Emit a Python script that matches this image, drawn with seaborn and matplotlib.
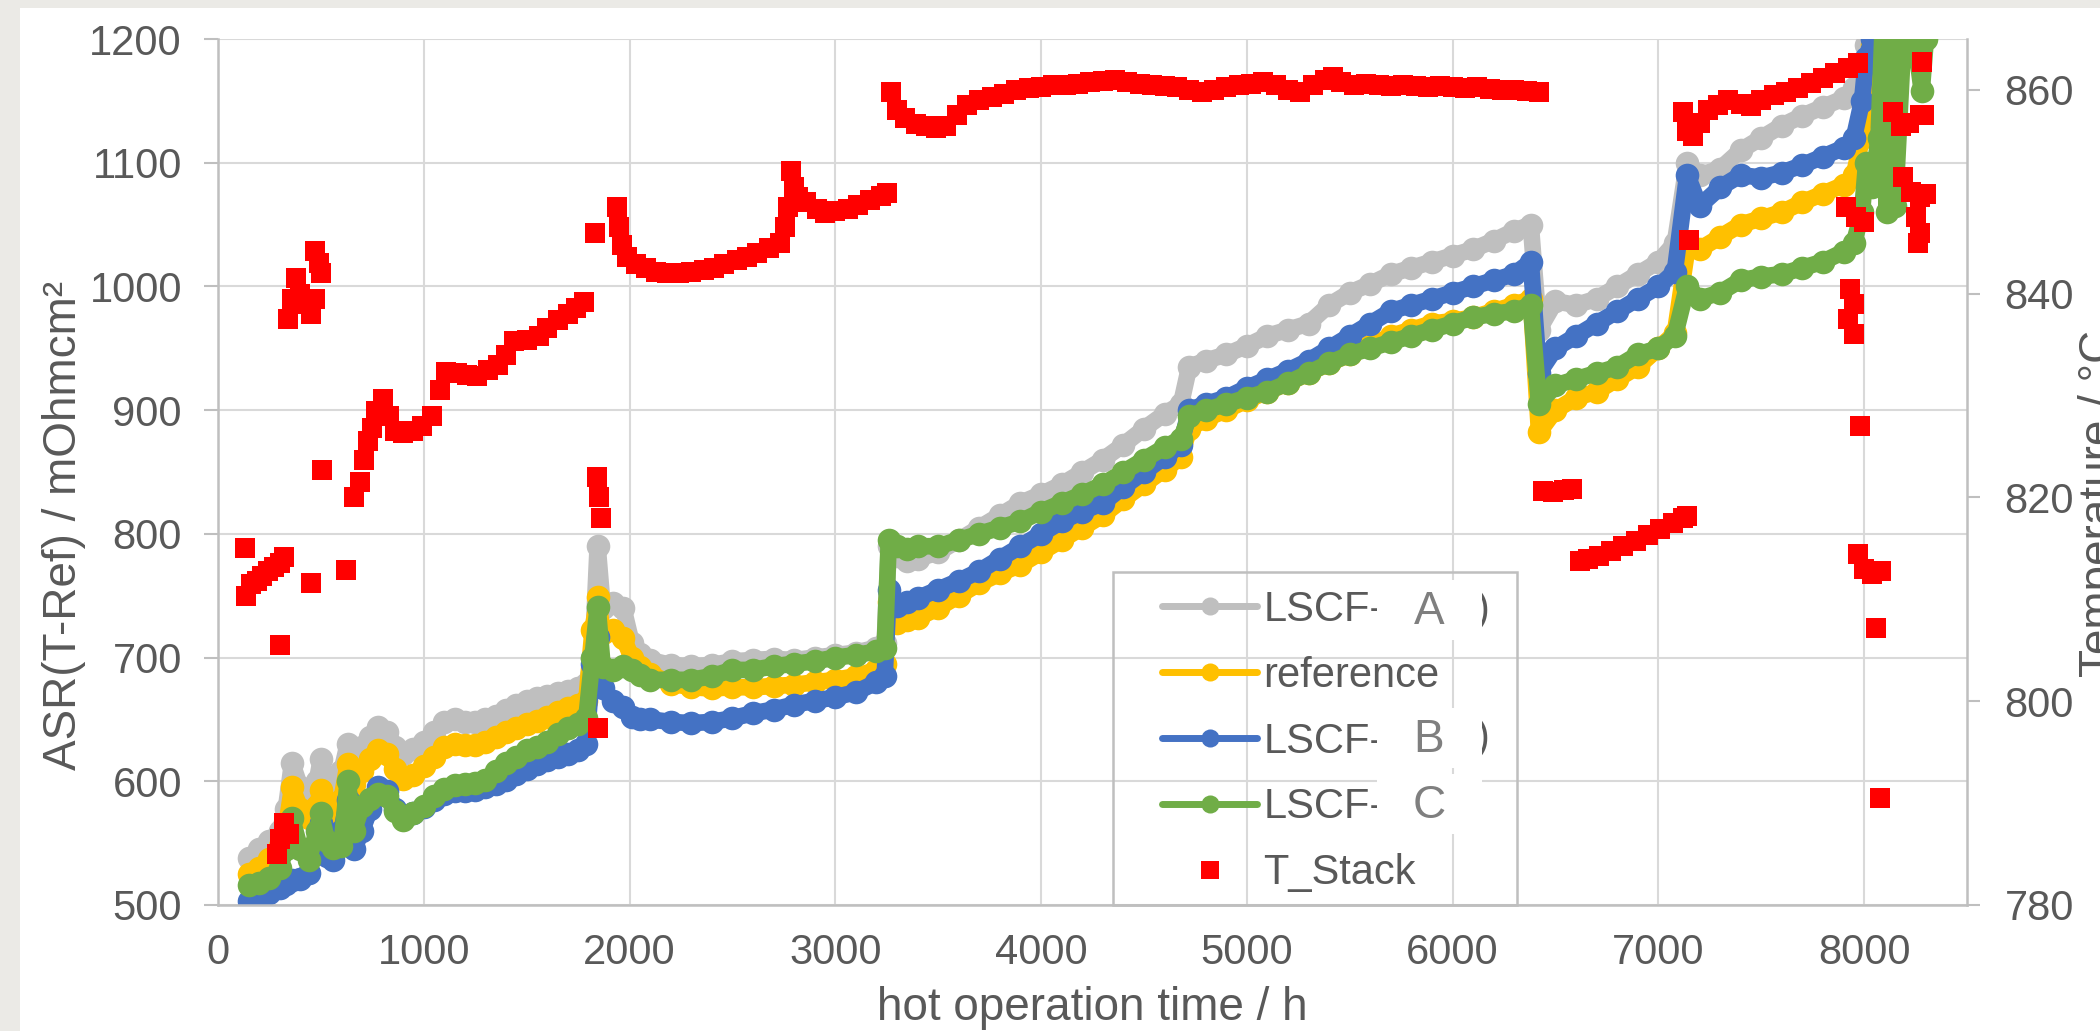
import numpy as np
import pandas as pd
import matplotlib
matplotlib.use("Agg")
import matplotlib.pyplot as plt
from matplotlib.lines import Line2D
from matplotlib.patches import Rectangle
import seaborn as sns

# ---------------- data ----------------
t_h = [150, 200, 250, 300, 330, 360, 400, 440, 480, 500,
       530, 560, 600, 630, 660, 700, 740, 780, 820, 860,
       900, 950, 1000, 1050, 1100, 1150, 1200, 1250, 1300, 1350,
       1400, 1450, 1500, 1550, 1600, 1650, 1700, 1750, 1790,
       1820, 1845, 1870, 1920, 1970, 2010, 2050, 2100,
       2200, 2300, 2400, 2500, 2600, 2700, 2800, 2900, 3000, 3100, 3200,
       3240, 3260, 3300, 3350, 3400,
       3500, 3600, 3700, 3800, 3900, 4000, 4100, 4200, 4300, 4400, 4500, 4600,
       4680, 4720,
       4800, 4900, 5000, 5100, 5200, 5300, 5400, 5500, 5600, 5700, 5800, 5900,
       6000, 6100, 6200, 6300,
       6380, 6420,
       6500, 6600, 6700, 6800, 6900, 7000,
       7080, 7140,
       7200, 7300, 7400, 7500, 7600, 7700, 7800, 7900,
       7950, 7990, 8010, 8040, 8070, 8090, 8110, 8130, 8150, 8200, 8250, 8280, 8300]

asr_A = [538, 545, 552, 560, 578, 615, 595, 588, 600, 618,
         598, 600, 608, 630, 618, 628, 636, 644, 640, 628,
         622, 626, 632, 640, 648, 650, 648, 648, 650, 653,
         658, 662, 665, 667, 669, 671, 673, 675, 679,
         700, 790, 740, 744, 740, 712, 703, 698,
         694, 693, 694, 697, 698, 699, 698, 700, 702, 704, 708,
         712, 790, 782, 778, 780,
         785, 795, 805, 815, 825, 832, 840, 850, 860, 872, 885, 897,
         905, 935,
         940, 945, 952, 960, 965, 970, 985, 995, 1002, 1010, 1015, 1020,
         1025, 1030, 1037, 1045,
         1050, 965,
         988, 985, 990, 1000, 1010, 1020,
         1035, 1100,
         1090, 1095, 1110, 1120, 1130, 1138, 1145, 1152,
         1160, 1170, 1195, 1205, 1215, 1230, 1240, 1240, 1250, 1260, 1260, 1260, 1260]

asr_ref = [525, 530, 537, 548, 562, 595, 578, 570, 580, 593,
           582, 574, 585, 614, 598, 608, 618, 625, 622, 610,
           602, 605, 612, 620, 628, 630, 629, 629, 632, 636,
           640, 643, 646, 649, 652, 656, 659, 662, 665,
           722, 749, 720, 722, 716, 700, 692, 687,
           679, 676, 675, 676, 676, 677, 678, 680, 682, 685, 690,
           695, 745, 728, 730, 732,
           740, 750, 760, 768, 775, 785, 795, 805, 815, 828, 840, 852,
           862, 885,
           893, 900, 908, 915, 922, 930, 938, 945, 952, 960, 965, 970,
           972, 975, 980, 985,
           990, 882,
           900, 910, 915, 925, 935, 950,
           962, 1030,
           1030, 1040, 1050, 1055, 1060, 1068, 1075, 1082,
           1090, 1120, 1180, 1195, 1200, 1192, 1185, 1200, 1215, 1240, 1250, 1250, 1250]

asr_B = [503, 507, 510, 514, 517, 520, 521, 526, 550, 566,
         540, 536, 560, 585, 545, 560, 578, 595, 592, 578,
         570, 574, 579, 585, 590, 592, 592, 593, 595, 598,
         601, 606, 610, 614, 617, 620, 622, 625, 630,
         695, 717, 675, 665, 660, 652, 650, 650,
         648, 647, 648, 651, 655, 658, 662, 665, 668, 672, 680,
         685, 755, 742, 745, 748,
         755, 762, 770, 780, 790, 800, 810, 818, 825, 838, 850, 862,
         872, 900,
         905, 910, 918, 925, 932, 940, 950, 960, 970, 980, 985, 990,
         995, 1000, 1005, 1010,
         1020, 930,
         950, 960, 970, 980, 990, 1000,
         1012, 1090,
         1065, 1080, 1090, 1088, 1092, 1098, 1105, 1112,
         1120, 1150, 1185, 1200, 1195, 1215, 1230, 1240, 1250, 1260, 1260, 1260, 1260]

asr_C = [516, 518, 522, 530, 545, 570, 545, 536, 560, 574,
         552, 546, 548, 600, 560, 580, 586, 590, 588, 576,
         569, 574, 580, 588, 594, 597, 598, 599, 601, 608,
         615, 620, 625, 628, 632, 638, 643, 646, 651,
         700, 741, 692, 690, 693, 690, 686, 682,
         682, 682, 685, 690, 690, 693, 695, 697, 700, 702, 705,
         708, 795, 790, 788, 790,
         790, 795, 800, 805, 810, 818, 825, 832, 840, 850, 860, 870,
         877, 895,
         900, 905, 910, 915, 922, 930, 938, 945, 950, 955, 960, 965,
         970, 975, 978, 980,
         985, 905,
         920, 925, 930, 935, 945, 950,
         960, 1000,
         990, 995, 1005, 1008, 1010, 1015, 1020, 1028,
         1035, 1060, 1100, 1080, 1120, 1210, 1060, 1210, 1065, 1230, 1196, 1158, 1200]

t_stack_h = [130, 135, 160, 190, 215, 245, 270, 300, 320,
             300, 285, 300, 320, 345,
             340, 360, 380, 400, 420, 450, 470,
             470, 490, 500,
             454, 505, 624,
             660, 690, 710, 730, 750, 770, 800, 830, 860, 900, 950, 990, 1040, 1080,
             1110, 1160, 1210, 1260, 1310, 1360, 1400, 1440, 1500, 1560, 1600, 1650,
             1700, 1740, 1780,
             1830, 1840, 1850, 1860, 1846,
             1940, 1950, 1965, 1990, 2030, 2080, 2130, 2180, 2240, 2300, 2360, 2410,
             2460, 2520, 2570, 2620, 2680, 2730, 2755, 2770, 2787, 2800, 2818, 2860,
             2910, 2950, 3000, 3060, 3110, 3170, 3220, 3250,
             3270, 3300, 3340, 3390, 3440, 3490, 3540, 3590, 3640, 3700, 3760, 3820,
             3880, 3940, 4000, 4060, 4120, 4180, 4240, 4300, 4360, 4420, 4480, 4540,
             4600, 4660, 4720, 4780, 4840, 4900, 4960, 5020, 5080, 5140, 5200, 5260,
             5320, 5380, 5420, 5460, 5520, 5580, 5640, 5700, 5760, 5820, 5880, 5940,
             6000, 6060, 6120, 6180, 6240, 6300, 6360, 6420,
             6440, 6490, 6540, 6580, 6620, 6660, 6710, 6770, 6830, 6890, 6950, 7010,
             7070, 7120, 7140,
             7150, 7120, 7140, 7170, 7200, 7240, 7290, 7340, 7400, 7450, 7500, 7560,
             7620, 7680, 7740, 7800, 7860, 7920, 7970,
             7910, 7960, 8000, 7930, 7950, 7920, 7950, 7980,
             7970, 8000, 8040, 8080, 8060, 8075,
             8140, 8180, 8220, 8270, 8290, 8190, 8230, 8270, 8300, 8250, 8270, 8260, 8280]

t_stack_C = [815.0, 810.3, 811.5, 811.8, 812.3, 812.8, 813.2, 813.6, 814.2,
             805.5, 785.0, 786.5, 788.0, 787.0,
             837.5, 839.5, 841.5, 840.0, 839.0, 838.0, 839.5,
             844.2, 843.0, 842.0,
             811.6, 822.7, 812.9,
             820.0, 821.5, 823.7, 825.5, 826.8, 828.5, 829.7, 828.0, 826.5, 826.3, 826.5, 827.0, 828.0, 830.5,
             832.3, 832.2, 832.0, 831.9, 832.5, 833.0, 834.0, 835.4, 835.5, 835.8, 836.6, 837.4,
             838.0, 838.6, 839.2,
             846.0, 822.0, 820.0, 818.0, 797.4,
             848.5, 846.5, 844.8, 843.6, 842.9, 842.5, 842.1, 842.0, 842.0, 842.1, 842.3, 842.5,
             842.9, 843.3, 843.6, 844.0, 844.5, 845.0, 846.5, 848.5, 852.0, 850.5, 849.5, 849.0,
             848.3, 847.9, 848.1, 848.3, 848.7, 849.2, 849.6, 849.9,
             859.8, 858.0, 857.2, 856.7, 856.5, 856.3, 856.5, 857.5, 858.5, 859.0, 859.3, 859.6,
             860.0, 860.2, 860.3, 860.5, 860.5, 860.6, 860.8, 860.9, 861.0, 860.8, 860.6, 860.5,
             860.4, 860.3, 860.0, 859.8, 860.0, 860.3, 860.5, 860.6, 860.8, 860.5, 860.0, 859.8,
             860.5, 861.0, 861.3, 860.8, 860.5, 860.6, 860.5, 860.4, 860.5, 860.4, 860.3, 860.4,
             860.3, 860.2, 860.3, 860.1, 860.0, 860.0, 859.9, 859.8,
             820.6, 820.5, 820.7, 820.8, 813.8, 814.0, 814.3, 814.7, 815.2, 815.7, 816.3, 816.9,
             817.5, 818.0, 818.2,
             845.3, 857.8, 856.0, 855.5, 856.8, 858.0, 858.5, 859.0, 858.6, 858.4, 859.0, 859.5,
             859.8, 860.2, 860.7, 861.2, 861.7, 862.2, 862.6,
             848.5, 847.5, 847.0, 840.5, 839.0, 837.5, 836.0, 827.0,
             814.5, 813.0, 812.5, 812.8, 807.2, 790.5,
             857.8, 856.5, 856.8, 857.5, 857.5, 851.5, 850.0, 849.5, 849.8, 847.5, 846.0, 845.0, 862.7]

series_names = ["LSCF-A", "reference", "LSCF-B", "LSCF-C"]
series_colors = ["#BFBFBF", "#FFC000", "#4472C4", "#70AD47"]
tick_x = [0, 1000, 2000, 3000, 4000, 5000, 6000, 7000, 8000]
tick_left = [500, 600, 700, 800, 900, 1000, 1100, 1200]
tick_right = [780, 800, 820, 840, 860]

assert len(t_h) == len(asr_A) == len(asr_ref) == len(asr_B) == len(asr_C)
assert len(t_stack_h) == len(t_stack_C)

# ---------------- figure ----------------
W, H = 2100, 1031
sns.set_theme(style="white")
plt.rcParams["font.family"] = ["Liberation Sans", "DejaVu Sans"]
TXT = "#595959"

fig = plt.figure(figsize=(W / 100, H / 100), dpi=100)
fig.patch.set_facecolor("#EBEAE6")


def fx(px):
    return px / W


def fy(py):
    return 1 - py / H


fig.patches.append(Rectangle((fx(20), 0), 1 - fx(20), fy(8), transform=fig.transFigure,
                             facecolor="white", edgecolor="none", zorder=-5))

L, R, T, B = 218, 1967, 39, 905
ax = fig.add_axes([fx(L), fy(B), fx(R) - fx(L), fy(T) - fy(B)])
ax.set_facecolor("white")

df = pd.DataFrame({"t": t_h, "LSCF-A": asr_A, "reference": asr_ref,
                   "LSCF-B": asr_B, "LSCF-C": asr_C})
for name, col in zip(series_names, series_colors):
    sns.lineplot(data=df, x="t", y=name, ax=ax, color=col, linewidth=12,
                 marker="o", markersize=17, markeredgewidth=0,
                 estimator=None, sort=False, legend=False)

ax.set_xlim(0, 8500)
ax.set_ylim(500, 1200)
ax.set_xticks(tick_x)
ax.set_yticks(tick_left)
ax.grid(True, color="#D9D9D9", linewidth=1.5)
ax.set_axisbelow(True)
for s in ["top", "right"]:
    ax.spines[s].set_visible(False)
for s in ["left", "bottom"]:
    ax.spines[s].set_color("#BFBFBF")
    ax.spines[s].set_linewidth(1.8)
ax.tick_params(axis="y", direction="out", length=10, width=1.5, color="#BFBFBF",
               labelsize=30, labelcolor=TXT, pad=16, left=True)
ax.tick_params(axis="x", length=0, labelsize=30, labelcolor=TXT, pad=20)
ax.set_xlabel("")
ax.set_ylabel("")

ax2 = ax.twinx()
sdf = pd.DataFrame({"t": t_stack_h, "T_Stack": t_stack_C})
sns.scatterplot(data=sdf, x="t", y="T_Stack", ax=ax2, color="#FF0000", marker="s",
                s=190, linewidth=0, legend=False)
ax2.set_ylim(780, 865)
ax2.set_xlim(0, 8500)
ax2.set_yticks(tick_right)
ax2.grid(False)
for s in ["top", "left", "bottom"]:
    ax2.spines[s].set_visible(False)
ax2.spines["right"].set_color("#BFBFBF")
ax2.spines["right"].set_linewidth(1.8)
ax2.tick_params(axis="y", direction="out", length=9, width=1.5, color="#BFBFBF",
                labelsize=30, labelcolor=TXT, pad=18, right=True)
ax2.set_ylabel("")
ax2.set_xlabel("")

# axis titles
fig.text(fx(1092), fy(1008), "hot operation time / h", fontsize=33, color=TXT,
         ha="center", va="center")
fig.text(fx(64), fy(525), "ASR(T-Ref) / mOhmcm²", fontsize=33, color=TXT,
         rotation=90, ha="center", va="center")
fig.text(fx(2078), fy(503), "Temperature / °C", fontsize=33, color=TXT,
         rotation=90, ha="left", va="center")

# legend
handles = [Line2D([], [], color=c, linewidth=5, marker="o", markersize=13,
                  markeredgewidth=0) for c in series_colors]
handles.append(Line2D([], [], color="#FF0000", linestyle="none", marker="s",
                      markersize=13, markeredgewidth=0))
labels = ["LSCF-", "reference", "LSCF-", "LSCF-", "T_Stack"]
leg = ax2.legend(handles, labels, loc="upper left", frameon=False,
                 bbox_to_anchor=(fx(1162), fy(590)), bbox_transform=fig.transFigure,
                 borderpad=0, borderaxespad=0, fontsize=30, labelcolor=TXT,
                 handlelength=2.28, handletextpad=0.15, labelspacing=0.62)
leg.set_zorder(20)
fig.patches.append(Rectangle((fx(1113), fy(905)), fx(1517) - fx(1113), fy(572) - fy(905),
                             transform=fig.transFigure, facecolor="none",
                             edgecolor="#BFBFBF", linewidth=1.8, zorder=19))
# legend label overlays (masked part of the labels)
rows = {"A": 610, "B": 738, "C": 804}
for letter, yc in rows.items():
    if letter in ("A", "B"):
        fig.text(fx(1490), fy(yc), ")", fontsize=30, color=TXT, ha="right",
                 va="center", zorder=30)
    fig.patches.append(Rectangle((fx(1377), fy(yc + 30)), fx(1482) - fx(1377), fy(yc - 30) - fy(yc + 30),
                                 transform=fig.transFigure, facecolor="white",
                                 edgecolor="none", zorder=31))
    fig.text(fx(1429), fy(yc + 2), letter, fontsize=33, color="#7F7F7F",
             ha="center", va="center", zorder=32)

fig.savefig("out.png", dpi=100, facecolor=fig.get_facecolor())
